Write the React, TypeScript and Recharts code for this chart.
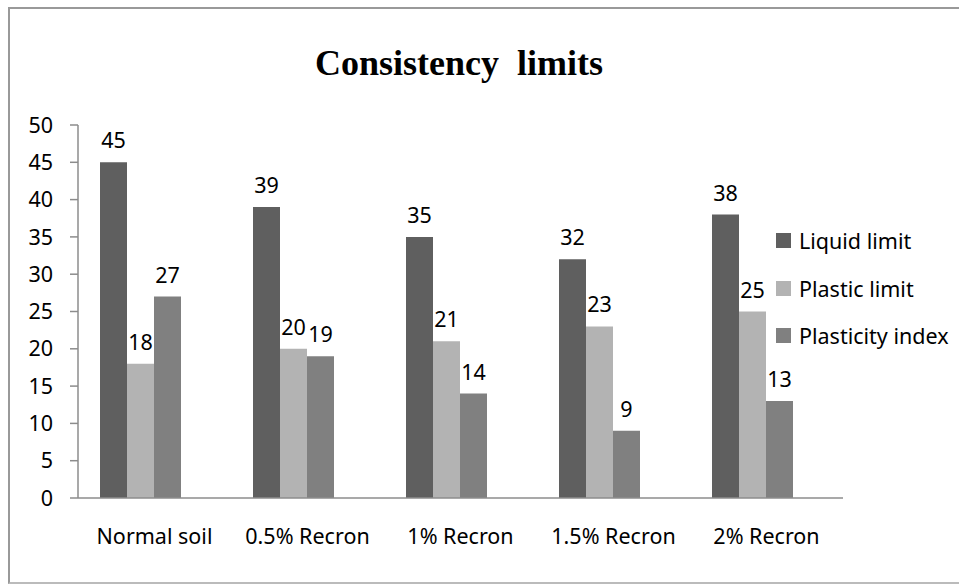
import { Bar, BarChart, LabelList, XAxis, YAxis } from "recharts";

const categories = ["Normal soil", "0.5% Recron", "1% Recron", "1.5% Recron", "2% Recron"];
const liquidLimit = [45, 39, 35, 32, 38];
const plasticLimit = [18, 20, 21, 23, 25];
const plasticityIndex = [27, 19, 14, 9, 13];
const yTicks = [0, 5, 10, 15, 20, 25, 30, 35, 40, 45, 50];

const SERIES = [
  { key: "liquid", name: "Liquid limit", color: "#5f5f5f" },
  { key: "plastic", name: "Plastic limit", color: "#b3b3b3" },
  { key: "index", name: "Plasticity index", color: "#808080" },
];

const FONT = "'Noto Sans', 'Open Sans', sans-serif";
const AXIS = "#8c8c8c";

const data = categories.map((category, i) => ({
  category,
  liquid: liquidLimit[i],
  plastic: plasticLimit[i],
  index: plasticityIndex[i],
}));

// Excel puts category tick marks on the boundaries, so draw them with a plain number axis
const edgeTicks = [...categories.map((_, i) => i), categories.length];

export default function App() {
  const tickStyle = { fill: "#000", fontSize: 21.5, fontFamily: FONT };
  return (
    <div style={{ position: "absolute", left: 0, top: 0, width: 959, height: 584, overflow: "hidden", background: "#fff" }}>
      <div
        style={{
          position: "absolute",
          left: 8,
          top: 7,
          width: 951,
          height: 577,
          borderLeft: "2px solid #999",
          borderTop: "2px solid #999",
          borderBottom: "2px solid #bbb",
          boxSizing: "border-box",
        }}
      />
      <div
        style={{
          position: "absolute",
          left: 0,
          top: 45,
          width: 918,
          textAlign: "center",
          fontFamily: "'Liberation Serif', 'Times New Roman', serif",
          fontWeight: "bold",
          fontSize: 36,
          lineHeight: "36px",
          whiteSpace: "pre",
          color: "#000",
        }}
      >
        {"Consistency  limits"}
      </div>
      <div style={{ position: "absolute", left: 0, top: 0 }}>
        <BarChart
          width={959}
          height={584}
          data={data}
          margin={{ top: 125, right: 116, left: 0, bottom: 26 }}
          barCategoryGap={22}
          barGap={0}
        >
          <XAxis
            xAxisId="cat"
            dataKey="category"
            height={59}
            axisLine={false}
            tickLine={false}
            tickSize={8}
            tickMargin={22}
            interval={0}
            tick={tickStyle}
          />
          <XAxis
            xAxisId="a"
            type="number"
            domain={[0, categories.length]}
            ticks={edgeTicks}
            allowDataOverflow
            height={1}
            tick={false}
            tickSize={8}
            axisLine={{ stroke: AXIS, strokeWidth: 1.5 }}
            tickLine={{ stroke: AXIS, strokeWidth: 1.5 }}
          />
          <YAxis
            domain={[0, 50]}
            ticks={yTicks}
            width={78}
            tickSize={8}
            tickMargin={17}
            axisLine={{ stroke: AXIS, strokeWidth: 1.5 }}
            tickLine={{ stroke: AXIS, strokeWidth: 1.5 }}
            tick={tickStyle}
          />
          {SERIES.map((s) => (
            <Bar key={s.key} xAxisId="cat" dataKey={s.key} name={s.name} fill={s.color} isAnimationActive={false}>
              <LabelList dataKey={s.key} position="top" offset={14} fill="#000" fontSize={21.5} fontFamily={FONT} />
            </Bar>
          ))}
          <Bar xAxisId="cat" dataKey="spacer" fill="none" legendType="none" isAnimationActive={false} />
        </BarChart>
      </div>
      <div style={{ position: "absolute", left: 776, top: 217, fontFamily: FONT, fontSize: 21.5, color: "#000" }}>
        {SERIES.map((s) => (
          <div key={s.key} style={{ height: 47.5, display: "flex", alignItems: "center", whiteSpace: "nowrap" }}>
            <span style={{ width: 15, height: 15, background: s.color, marginRight: 8, display: "inline-block" }} />
            {s.name}
          </div>
        ))}
      </div>
    </div>
  );
}
